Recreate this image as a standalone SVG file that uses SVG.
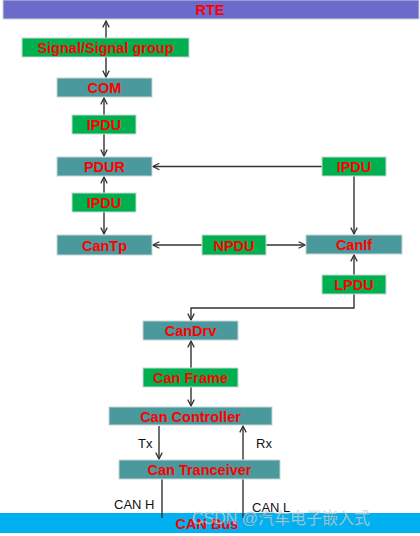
<svg xmlns="http://www.w3.org/2000/svg" width="420" height="536" viewBox="0 0 420 536">
<style>
.t{font-family:"Liberation Sans",Arial,sans-serif;font-weight:bold;font-size:14.5px;fill:#ff0000;text-anchor:middle;dominant-baseline:central}
.s{font-family:"Liberation Sans",Arial,sans-serif;font-size:13px;fill:#111}
.g{fill:#00b050;stroke:#c9d3d3;stroke-width:1}
.b{fill:#4a999c;stroke:#c9d3d3;stroke-width:1}
.c line,.c path{stroke:#333;stroke-width:1.4;fill:none}
</style>
<defs>
<marker id="a" viewBox="0 0 10 10" refX="9" refY="5" markerWidth="8" markerHeight="8" markerUnits="userSpaceOnUse" orient="auto-start-reverse">
<path d="M1,1 L9,5 L1,9" fill="none" stroke="#333" stroke-width="1.6"/>
</marker>
</defs>
<g id="rte"><rect x="3" y="0" width="416" height="19" fill="#6b6bcc" stroke="#c9d3d3"/><text class="t" x="210" y="10">RTE</text></g>
<g id="canbus"><rect x="0" y="513" width="420" height="20" fill="#00b0f0"/><text class="t" x="207" y="524">CAN Bus</text></g>
<g class="c" id="connectors">
<line x1="106" y1="21" x2="106" y2="77" marker-start="url(#a)" marker-end="url(#a)"/>
<line x1="104" y1="98" x2="104" y2="156" marker-start="url(#a)" marker-end="url(#a)"/>
<line x1="322" y1="166.5" x2="153" y2="166.5" marker-end="url(#a)"/>
<line x1="354" y1="176" x2="354" y2="234" marker-end="url(#a)"/>
<line x1="104" y1="177" x2="104" y2="234" marker-start="url(#a)" marker-end="url(#a)"/>
<line x1="202" y1="245" x2="153" y2="245" marker-end="url(#a)"/>
<line x1="266" y1="245" x2="305" y2="245" marker-end="url(#a)"/>
<line x1="354" y1="275" x2="354" y2="255" marker-end="url(#a)"/>
<path d="M354,294 V308 H191 V320" marker-end="url(#a)"/>
<line x1="191" y1="341" x2="191" y2="406" marker-start="url(#a)" marker-end="url(#a)"/>
<line x1="159" y1="426" x2="159" y2="459" marker-end="url(#a)"/>
<line x1="243" y1="479" x2="243" y2="426" marker-end="url(#a)"/>
<line x1="162" y1="479" x2="162" y2="518"/>
<line x1="243" y1="479" x2="243" y2="518"/>
</g>
<g id="signal"><rect class="g" x="22" y="38" width="167" height="19"/><text class="t" x="105.5" y="48">Signal/Signal group</text></g>
<g id="com"><rect class="b" x="57" y="78" width="95" height="19"/><text class="t" x="104.5" y="88">COM</text></g>
<g id="ipdu1"><rect class="g" x="72" y="115" width="64" height="19"/><text class="t" x="104" y="125">IPDU</text></g>
<g id="pdur"><rect class="b" x="57" y="157" width="95" height="19"/><text class="t" x="104.5" y="167">PDUR</text></g>
<g id="ipdu3"><rect class="g" x="322" y="157" width="64" height="19"/><text class="t" x="354" y="167">IPDU</text></g>
<g id="ipdu2"><rect class="g" x="72" y="193" width="64" height="19"/><text class="t" x="104" y="203">IPDU</text></g>
<g id="cantp"><rect class="b" x="57" y="235" width="95" height="20"/><text class="t" x="104.5" y="245.5">CanTp</text></g>
<g id="npdu"><rect class="g" x="202" y="235" width="64" height="20"/><text class="t" x="234" y="245.5">NPDU</text></g>
<g id="canif"><rect class="b" x="306" y="235" width="96" height="19"/><text class="t" x="354" y="245">CanIf</text></g>
<g id="lpdu"><rect class="g" x="322" y="275" width="64" height="19"/><text class="t" x="354" y="285">LPDU</text></g>
<g id="candrv"><rect class="b" x="143" y="321" width="95" height="19"/><text class="t" x="190.5" y="331">CanDrv</text></g>
<g id="canframe"><rect class="g" x="143" y="368" width="95" height="19"/><text class="t" x="190.5" y="378">Can Frame</text></g>
<g id="cancontroller"><rect class="b" x="109" y="407" width="163" height="18"/><text class="t" x="190.5" y="416.5">Can Controller</text></g>
<g id="cantranceiver"><rect class="b" x="119" y="460" width="161" height="19"/><text class="t" x="199.5" y="470">Can Tranceiver</text></g>
<g id="labels">
<text class="s" x="138" y="448">Tx</text>
<text class="s" x="256" y="448">Rx</text>
<text class="s" x="114" y="509">CAN H</text>
<text class="s" x="252" y="512">CAN L</text>
</g>
<text x="192" y="524" font-family="'Liberation Sans','Noto Sans CJK SC',sans-serif" font-size="16" fill="#ffffff" fill-opacity="0.55" stroke="#888" stroke-opacity="0.6" stroke-width="0.4">CSDN @汽车电子嵌入式</text>
</svg>
